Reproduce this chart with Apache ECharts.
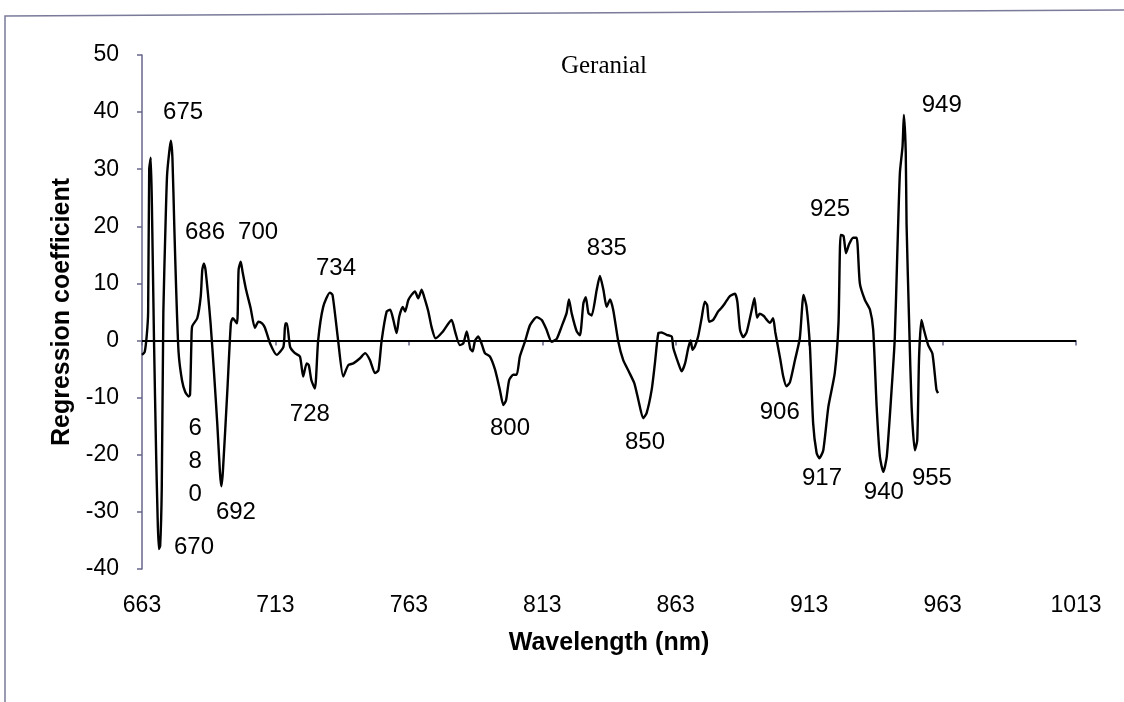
<!DOCTYPE html>
<html>
<head>
<meta charset="utf-8">
<script src="https://cdn.jsdelivr.net/npm/echarts@6/dist/echarts.min.js"></script>
<style>
  html, body { margin: 0; padding: 0; background: #ffffff; }
  #chart { width: 1124px; height: 702px; }
</style>
</head>
<body>
<div id="chart"></div>
<script>
// Wavelength (nm) of each sample along the regression-coefficient curve
const wavelengths = [
  663, 664, 664.8, 665.3, 665.7, 666.3, 666.8, 667.5, 668.3, 668.8, 669.3, 669.8, 670.4, 671, 671.8,
  672.4, 673.2, 673.8, 674.4, 675.1, 675.8, 676.7, 678, 679.2, 680.5, 681, 681.5, 681.8, 683.7, 685,
  685.6, 686.2, 686.8, 688.7, 690, 691.2, 692.2, 692.7, 693.3, 695, 696.3, 697, 698.6, 699.2, 700,
  700.7, 702, 703.7, 705.3, 706.6, 708, 709.1, 711, 713.5, 716, 716.7, 717.3, 718.5, 720.3, 722.2,
  723.4, 724.7, 725.5, 726.5, 727.8, 729, 730.9, 733.4, 734.4, 736.5, 738.4, 740.3, 742.2, 744.7, 746.6,
  748.4, 750.3, 751.6, 752.8, 754.7, 756, 757.2, 758.4, 759.4, 760.7, 761.6, 762.8, 764, 765.3, 766.5,
  767.8, 768.7, 770.3, 771.5, 773, 775.6, 779, 780.3, 782.1, 783.4, 784.7, 786, 786.9, 787.8, 789,
  790.3, 791.5, 793.4, 795.3, 797.1, 798.4, 799.4, 800.6, 802.1, 803.4, 804.6, 806.5, 808.4, 810.9, 812.8,
  814.6, 816.5, 818.4, 820.2, 822.1, 823, 824, 825.9, 827.1, 828.4, 829.3, 830.3, 831.5, 833.4, 834.6,
  835.9, 837.1, 838.4, 839.6, 841.5, 843.3, 845.5, 847.5, 849, 850.8, 852.1, 854, 855.2, 856.5, 857.7,
  859.6, 861.5, 862.1, 864, 865.2, 866.5, 867.7, 868.6, 869.3, 870.2, 871.4, 872.7, 873.9, 874.8, 875.5,
  877, 878.9, 880.1, 881.4, 883.3, 885.2, 886.1, 887.1, 888.3, 889.6, 891.5, 892.5, 893.5, 894.5, 896,
  897, 898.3, 899.5, 900.3, 902.2, 903.3, 904.5, 905.8, 907.7, 909.5, 910.9, 912, 913.3, 914.5, 915.8,
  916.8, 918.3, 920.2, 922.6, 924, 924.8, 925.9, 926.8, 928, 929.5, 930.8, 932, 933.9, 935.8, 937,
  938.3, 939.5, 940.8, 942.1, 943.9, 945.1, 946, 947, 948, 948.5, 949.2, 949.5, 950.5, 951.4, 952.6,
  953.5, 954.2, 955.1, 956, 957.6, 959.2, 960.7, 961.3
];

// Regression coefficient at each wavelength
const coefficients = [
  -2.5, -2, 1, 5, 30, 32, 21, 0, -20, -30, -36.5, -36, -26, 5, 20,
  29, 33, 35, 32, 20, 9, -2, -7, -9, -9.8, -9.5, -0.5, 2.5, 3.9, 7.7,
  12.4, 13.5, 12.4, 3, -5.7, -14.5, -23, -25.5, -23, -8.6, 3, 3.9, 3, 12.4, 13.8,
  12, 8.9, 5.7, 2.2, 3.3, 3, 2.2, -0.5, -2.5, -1.1, 3.0, 3.0, -1.1, -2.2, -2.8,
  -6.3, -4.0, -4.3, -7, -8.4, 0, 5.9, 8.4, 8.0, 0, -6.3, -4.3, -4.0, -3.1, -2.2,
  -3.4, -5.7, -5.2, 0, 5.1, 5.4, 3.6, 1.3, 4.2, 5.9, 5.1, 7.1, 8.0, 8.6, 7.4,
  8.9, 7.7, 5.1, 2.4, 0.4, 1.5, 3.6, 1.6, -0.8, -0.5, 1.6, -1.4, -1.9, 0, 0.7,
  -0.6, -2.2, -2.8, -5.1, -8.6, -11.3, -10.5, -6.9, -6.0, -6.0, -2.8, -0.2, 2.7, 4.1, 3.6,
  1.9, -0.2, 0.3, 2.4, 4.8, 7.2, 4.8, 1.6, 0.9, 6.5, 7.6, 4.8, 4.4, 8.9, 11.3,
  8.9, 5.9, 7.2, 5.3, -0.2, -3.4, -5.5, -7.5, -10.4, -13.6, -12.7, -8.6, -4.0, 1.3, 1.4,
  1.0, 0.7, -1.3, -4.0, -5.4, -4.0, -1.3, 0, -1.6, -1.0, 0.7, 3.9, 6.8, 6.2, 3.3,
  3.6, 5.1, 5.7, 6.5, 7.8, 8.2, 6.8, 1.9, 0.6, 1.5, 5.4, 7.4, 4.0, 4.7, 4.3,
  3.7, 3.1, 3.9, 1.5, -3.3, -6.3, -8.0, -7.3, -3.4, 0.4, 8.0, 6, -1.1, -14.5, -19.7,
  -20.6, -19.2, -11.6, -5.7, 3.0, 18.5, 18.3, 15.3, 16.9, 18.0, 18.0, 10.0, 7.1, 5.4, 1.9,
  -11.6, -20.3, -23, -20.3, -8.6, 0.5, 14.7, 29.3, 34, 39.5, 33, 20.5, 2.6, -11.6, -19.2,
  -17.5, -2.8, 3.6, 1.9, -0.8, -2.3, -8.6, -9.2
];

// Tick labels of the wavelength axis
const xTicks = [663, 713, 763, 813, 863, 913, 963, 1013];

// Peak / trough annotations: text and the (wavelength, coefficient) spot where it sits
const peakTexts = ['675', '686', '700', '734', '728', '800', '835', '850', '906', '917', '925', '940', '949', '955', '670', '692', '6\n8\n0'];
const peakX     = [678.4, 686.6, 706.5, 735.7, 725.9, 800.9, 837.2, 851.5, 902.0, 917.8, 920.8, 941.0, 962.7, 959.0, 682.5, 698.2, 682.9];
const peakY     = [39.9, 19.0, 19.0, 12.7, -12.9, -15.3, 16.2, -17.8, -12.5, -24.1, 23.0, -26.5, 41.1, -24.1, -36.3, -30.0, -21.1];

const sans = "'Liberation Sans', Arial, sans-serif";
const axisColor = '#66668a';

const curve = wavelengths.map((w, i) => [w, coefficients[i]]);
const notes = peakTexts.map((t, i) => [peakX[i], peakY[i], t]);

const chart = echarts.init(document.getElementById('chart'), null, { renderer: 'canvas' });

chart.setOption({
  backgroundColor: '#ffffff',
  animation: false,
  grid: { left: 142, right: 48, top: 55, bottom: 133, containLabel: false },
  xAxis: {
    type: 'value',
    min: 663,
    max: 1013,
    name: 'Wavelength (nm)',
    nameLocation: 'middle',
    nameGap: 62,
    nameTextStyle: { fontFamily: sans, fontSize: 25, fontWeight: 'bold', color: '#000' },
    axisLine: { show: true, lineStyle: { color: axisColor, width: 1.5 } },
    axisTick: { show: true, inside: false, length: 5, customValues: xTicks, lineStyle: { color: axisColor, width: 1.5 } },
    axisLabel: { customValues: xTicks, margin: 25, formatter: v => String(v), fontFamily: sans, fontSize: 23, color: '#000' },
    splitLine: { show: false }
  },
  yAxis: {
    type: 'value',
    min: -40,
    max: 50,
    interval: 10,
    name: 'Regression coefficient',
    nameLocation: 'middle',
    nameGap: 66,
    nameTextStyle: { fontFamily: sans, fontSize: 25, fontWeight: 'bold', color: '#000' },
    axisLine: { show: true, lineStyle: { color: axisColor, width: 1.5 } },
    axisTick: { show: true, inside: false, length: 5, lineStyle: { color: axisColor, width: 1.5 } },
    axisLabel: { margin: 23, fontFamily: sans, fontSize: 23, color: '#000' },
    splitLine: { show: false }
  },
  series: [
    {
      type: 'line',
      data: curve,
      showSymbol: false,
      smooth: 0.2,
      lineStyle: { color: '#000', width: 2.4 },
      z: 3,
      markLine: {
        silent: true,
        symbol: ['none', 'none'],
        label: { show: false },
        lineStyle: { color: '#000', width: 2, type: 'solid' },
        data: [{ yAxis: 0 }]
      }
    },
    {
      type: 'scatter',
      data: notes,
      symbolSize: 0,
      silent: true,
      z: 4,
      itemStyle: { opacity: 1 },
      label: {
        show: true,
        position: 'inside',
        formatter: p => p.data[2],
        fontFamily: sans,
        fontSize: 24,
        lineHeight: 33,
        color: '#000'
      }
    }
  ],
  graphic: [
    {
      type: 'text',
      x: 604,
      y: 66,
      style: {
        text: 'Geranial',
        fontFamily: "'Liberation Serif', 'Times New Roman', serif",
        fontSize: 25,
        fill: '#000',
        textAlign: 'center',
        textVerticalAlign: 'middle'
      }
    },
    {
      type: 'polyline',
      shape: { points: [[5, 702], [5, 16], [1124, 10]] },
      style: { stroke: '#7a7a9a', lineWidth: 1.5, fill: 'none' }
    }
  ]
});
</script>
</body>
</html>
